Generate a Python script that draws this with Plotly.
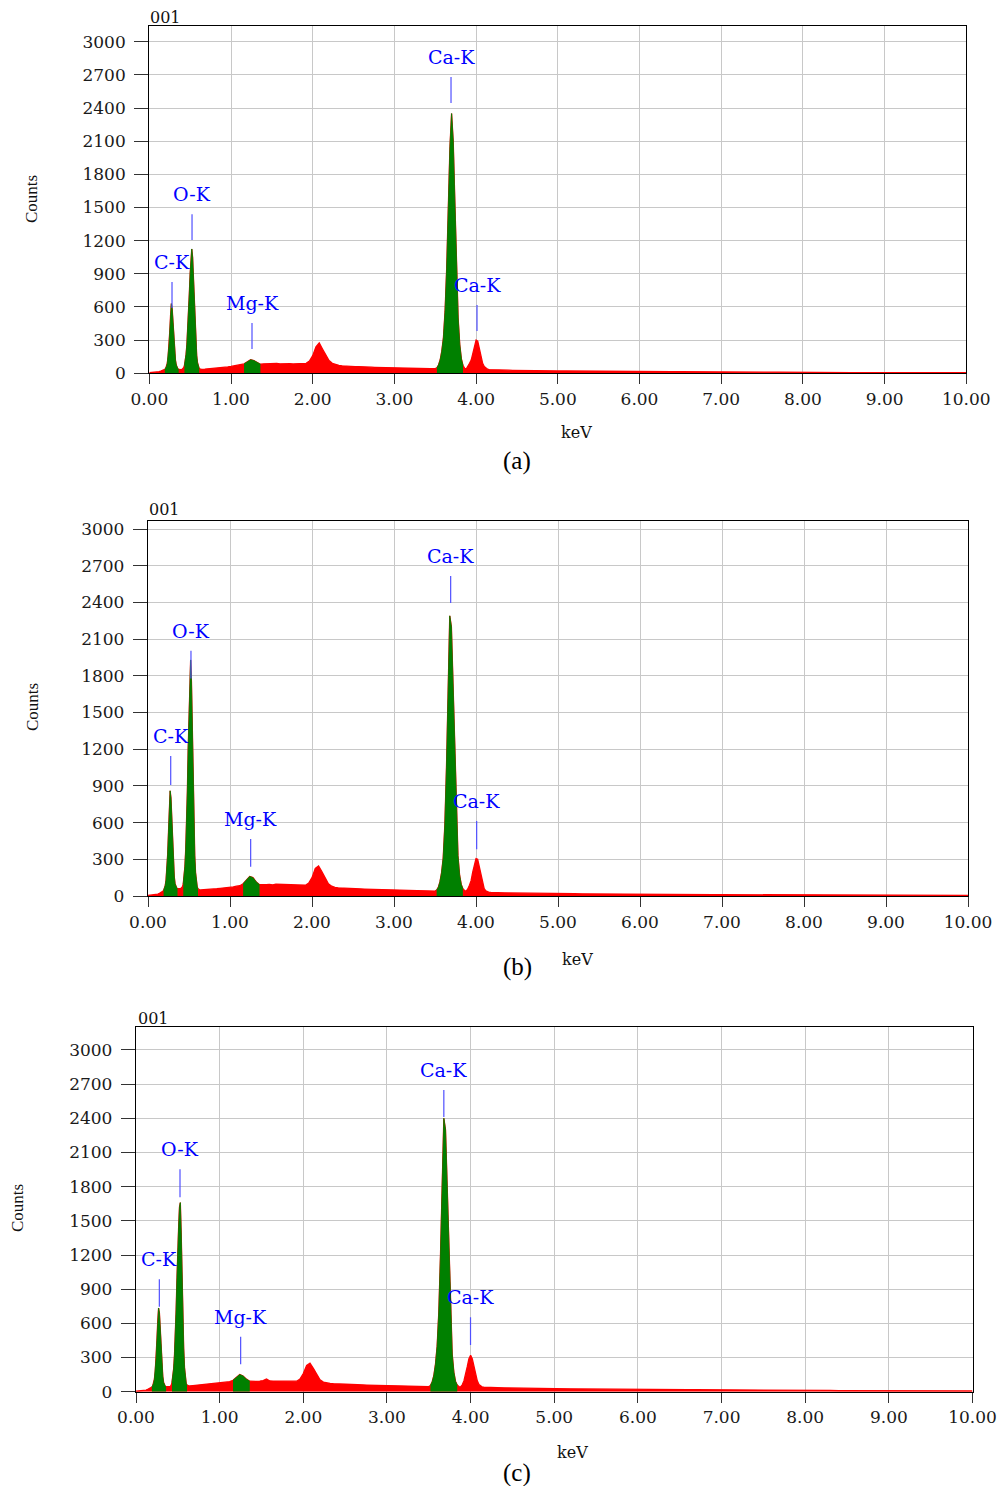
import numpy as np
import plotly.graph_objects as go

# ---------------- data ----------------
# energy channels (keV): sampling segments of the spectrum
ENERGY_KEV = np.round(np.concatenate([
    np.arange(0.00, 0.15, 0.02),    # 0.00 .. 0.14  (8)
    np.arange(0.16, 0.645, 0.01),   # 0.16 .. 0.64  (49)
    np.arange(0.68, 3.485, 0.04),   # 0.68 .. 3.48  (71)
    np.arange(3.50, 4.205, 0.02),   # 3.50 .. 4.20  (36)
    np.arange(4.25, 5.005, 0.05),   # 4.25 .. 5.00  (16)
    np.arange(5.10, 10.005, 0.10),  # 5.10 .. 10.0  (50)
]), 3)

COUNTS_A = [
    5, 6, 7, 8, 10, 12, 15, 20,
    25, 28, 30, 35, 45, 60, 90, 150, 240, 370, 520, 630, 580, 450, 310, 200, 120, 75, 50, 40, 35, 32,
    30, 32, 35, 40, 50, 70, 110, 170, 260, 380, 540, 720, 900, 1060, 1125, 1050, 860, 640, 430, 270,
    160, 95, 60, 45, 40, 38, 36,
    38, 40, 42, 45, 48, 52, 55, 58, 62, 66, 72, 75, 85, 105, 122, 115, 95, 82, 86, 88, 90, 87, 89, 86,
    88, 85, 87, 84, 86, 83, 85, 90, 110, 160, 240, 275, 220, 160, 115, 90, 78, 72, 68, 65, 63, 62, 60,
    61, 58, 57, 56, 55, 54, 53, 52, 50, 49, 48, 47, 46, 46, 45, 44, 44, 43, 43, 42, 42, 41, 41, 42,
    42, 50, 75, 120, 200, 320, 560, 950, 1500, 2050, 2350, 2100, 1550, 950, 500, 260, 130, 70, 45, 40,
    60, 90, 120, 190, 260, 300, 290, 230, 150, 90, 62, 45, 37, 34, 33, 32,
    30, 29, 28, 28, 27, 26, 26, 25, 25, 24, 24, 23, 23, 22, 22, 21,
    21, 20, 20, 19, 19, 18, 18, 17, 17, 16, 16, 15, 15, 14, 15, 14, 13, 13, 12, 12, 12, 11, 11, 11, 10,
    10, 10, 9, 9, 9, 9, 8, 8, 8, 8, 7, 7, 7, 7, 7, 6, 6, 7, 6, 6, 6, 5, 5, 5, 5,
]

COUNTS_B = [
    5, 6, 7, 8, 9, 12, 15, 22,
    28, 32, 38, 45, 60, 85, 130, 210, 340, 520, 720, 860, 800, 620, 430, 270, 160, 100, 75, 65, 62, 60,
    58, 60, 62, 66, 75, 100, 150, 240, 380, 580, 850, 1200, 1550, 1850, 1930, 1750, 1350, 900, 560, 330,
    190, 110, 75, 58, 52, 50, 49,
    50, 52, 55, 57, 60, 63, 65, 67, 70, 74, 80, 84, 100, 130, 160, 150, 115, 92, 90, 92, 94, 91, 96, 95,
    92, 94, 90, 89, 91, 87, 84, 88, 105, 150, 225, 245, 200, 145, 100, 80, 70, 67, 65, 64, 63, 62, 61,
    60, 58, 57, 56, 55, 54, 53, 52, 51, 50, 49, 48, 47, 47, 46, 45, 45, 44, 44, 43, 42, 41, 40, 40,
    40, 48, 70, 115, 190, 310, 580, 1050, 1700, 2290, 2200, 1750, 1150, 650, 330, 170, 95, 60, 45, 40,
    58, 88, 125, 195, 265, 305, 300, 240, 160, 95, 60, 42, 34, 30, 29, 28,
    27, 26, 26, 25, 25, 24, 24, 23, 23, 22, 22, 21, 21, 20, 20, 19,
    19, 19, 18, 18, 17, 17, 16, 16, 15, 15, 15, 14, 14, 13, 13, 13, 12, 12, 12, 11, 11, 11, 10, 10, 10,
    9, 9, 9, 9, 8, 8, 8, 8, 7, 7, 7, 7, 7, 6, 6, 6, 6, 6, 5, 6, 5, 5, 5, 5, 5,
]

COUNTS_C = [
    5, 6, 7, 8, 9, 11, 14, 20,
    26, 30, 34, 40, 52, 72, 110, 180, 290, 450, 620, 735, 690, 540, 370, 230, 135, 80, 55, 47, 44, 43,
    42, 43, 45, 48, 56, 80, 125, 200, 320, 490, 720, 1000, 1300, 1450, 1620, 1660, 1400, 1000, 640, 380,
    210, 120, 72, 58, 53, 51, 50,
    54, 57, 60, 64, 67, 70, 73, 76, 79, 82, 86, 88, 100, 125, 150, 138, 110, 92, 90, 91, 93, 98, 112, 94,
    93, 92, 93, 91, 90, 89, 87, 92, 110, 160, 230, 250, 205, 150, 105, 85, 76, 72, 70, 68, 67, 66, 66,
    64, 62, 61, 60, 59, 58, 57, 56, 55, 54, 53, 52, 51, 51, 50, 50, 49, 49, 48, 48, 47, 46, 45, 45,
    45, 55, 85, 140, 240, 400, 700, 1200, 1850, 2400, 2300, 1800, 1150, 640, 330, 170, 90, 58, 45, 42,
    60, 95, 150, 220, 290, 320, 290, 220, 150, 95, 62, 47, 41, 39, 38, 38,
    37, 36, 35, 34, 33, 32, 31, 30, 30, 29, 28, 28, 27, 27, 26, 26,
    25, 25, 24, 24, 23, 23, 22, 22, 21, 21, 20, 20, 19, 19, 18, 18, 17, 17, 16, 16, 15, 15, 14, 14, 14,
    13, 13, 12, 12, 12, 11, 11, 11, 10, 10, 10, 9, 9, 9, 9, 8, 8, 8, 8, 8, 7, 7, 7, 7, 7,
]

# identified-peak windows (keV) shown in green
GREEN_WINDOWS = [(0.19, 0.36), (0.43, 0.61), (1.14, 1.37), (3.52, 3.85)]

# peak labels: name, energy (keV), marker line bottom / top (counts)
LABEL_NAMES = ["C-K", "O-K", "Mg-K", "Ca-K", "Ca-K"]
LABEL_KEV = {
    "a": [0.278, 0.523, 1.257, 3.693, 4.011],
    "b": [0.277, 0.524, 1.252, 3.691, 4.008],
    "c": [0.279, 0.526, 1.251, 3.680, 3.999],
}
LABEL_LOW = {
    "a": [591, 1205, 220, 2445, 383],
    "b": [907, 1779, 240, 2395, 382],
    "c": [746, 1707, 241, 2412, 410],
}
LABEL_HIGH = {
    "a": [826, 1440, 456, 2680, 619],
    "b": [1144, 2005, 466, 2616, 613],
    "c": [987, 1953, 483, 2649, 653],
}

X_TICKS = [0, 1, 2, 3, 4, 5, 6, 7, 8, 9, 10]
X_TICKTEXT = ["0.00", "1.00", "2.00", "3.00", "4.00", "5.00", "6.00", "7.00", "8.00", "9.00", "10.00"]
Y_TICKS = [0, 300, 600, 900, 1200, 1500, 1800, 2100, 2400, 2700, 3000]
Y_TICKTEXT = ["0", "300", "600", "900", "1200", "1500", "1800", "2100", "2400", "2700", "3000"]

PANELS = ["a", "b", "c"]
SPECTRA = {"a": COUNTS_A, "b": COUNTS_B, "c": COUNTS_C}

for k in PANELS:
    assert len(SPECTRA[k]) == len(ENERGY_KEV), (k, len(SPECTRA[k]), len(ENERGY_KEV))

# ---------------- layout (pixels) ----------------
W, H = 997, 1486
# plot-area geometry: left px, right px, top px, bottom px (y=0), y range top
GEOM = {
    "a": dict(l=149.3, r=966.3, t=26.0, b=373.3, ytop=3142),
    "b": dict(l=148.0, r=968.0, t=520.7, b=896.0, ytop=3068),
    "c": dict(l=136.0, r=972.5, t=1027.3, b=1391.7, ytop=3199),
}
TEXT_POS = {
    "a": dict(counts=(32, 199), kev=(576, 432), tag=(165, 17), cap=(517, 461)),
    "b": dict(counts=(32, 707), kev=(577, 959), tag=(164, 510), cap=(517, 967)),
    "c": dict(counts=(17, 1208), kev=(572, 1452), tag=(153, 1018), cap=(517, 1473)),
}

def px(x, y):
    return x / W, 1 - y / H

SERIF = "DejaVu Serif"
TIMES = "Liberation Serif"

fig = go.Figure()
annotations = []
shapes = []

for i, k in enumerate(PANELS):
    n = "" if i == 0 else str(i + 1)
    xa, ya = "x" + n, "y" + n
    g = GEOM[k]
    e = np.array(ENERGY_KEV)
    c = np.array(SPECTRA[k], dtype=float)

    fig.add_trace(go.Scatter(
        x=e, y=c, xaxis=xa, yaxis=ya, mode="lines",
        line=dict(color="#ff0000", width=1.3), fill="tozeroy",
        fillcolor="#ff0000", hoverinfo="skip", showlegend=False))
    for lo, hi in GREEN_WINDOWS:
        m = (e >= lo - 1e-9) & (e <= hi + 1e-9)
        fig.add_trace(go.Scatter(
            x=e[m], y=c[m], xaxis=xa, yaxis=ya, mode="lines",
            line=dict(color="#008000", width=0.8), fill="tozeroy",
            fillcolor="#008000", hoverinfo="skip", showlegend=False))

    axis_common = dict(
        showline=True, linecolor="#000000", linewidth=1.3, mirror=True,
        showgrid=True, gridcolor="#c8c8c8", gridwidth=1, zeroline=False,
        ticks="outside", tickcolor="#333333", tickwidth=1.3, automargin=False,
        tickfont=dict(family=SERIF, size=17, color="#1a1a1a"),
    )
    fig.layout["xaxis" + n] = dict(
        axis_common, domain=[g["l"] / W, g["r"] / W], range=[0, 10],
        anchor=ya, tickvals=X_TICKS, ticktext=X_TICKTEXT, ticklen=10)
    fig.layout["yaxis" + n] = dict(
        axis_common, domain=[1 - g["b"] / H, 1 - g["t"] / H], range=[0, g["ytop"]],
        anchor=xa, tickvals=Y_TICKS, ticktext=Y_TICKTEXT, ticklen=14,
        ticklabelstandoff=5)

    # peak labels
    for name, kev, lo, hi in zip(LABEL_NAMES, LABEL_KEV[k], LABEL_LOW[k], LABEL_HIGH[k]):
        shapes.append(dict(type="line", xref=xa, yref=ya, x0=kev, x1=kev, y0=lo, y1=hi,
                           line=dict(color="#5050ff", width=1.2), layer="above"))
        annotations.append(dict(x=kev, y=hi, xref=xa, yref=ya, text=name, showarrow=False,
                                yanchor="middle", xanchor="center", yshift=20,
                                font=dict(family=SERIF, size=19, color="#0000ff")))

    tp = TEXT_POS[k]
    x0, y0 = px(*tp["counts"])
    annotations.append(dict(x=x0, y=y0, xref="paper", yref="paper", text="Counts",
                            textangle=-90, showarrow=False, xanchor="center", yanchor="middle",
                            font=dict(family=TIMES, size=17, color="#111111")))
    x0, y0 = px(*tp["kev"])
    annotations.append(dict(x=x0, y=y0, xref="paper", yref="paper", text="keV",
                            showarrow=False, xanchor="center", yanchor="middle",
                            font=dict(family=SERIF, size=16, color="#111111")))
    x0, y0 = px(*tp["tag"])
    annotations.append(dict(x=x0, y=y0, xref="paper", yref="paper", text="001",
                            showarrow=False, xanchor="center", yanchor="middle",
                            font=dict(family=SERIF, size=16, color="#111111")))
    x0, y0 = px(*tp["cap"])
    annotations.append(dict(x=x0, y=y0, xref="paper", yref="paper", text="(" + k + ")",
                            showarrow=False, xanchor="center", yanchor="middle",
                            font=dict(family=TIMES, size=25, color="#000000")))

fig.update_layout(
    width=W, height=H, margin=dict(l=0, r=0, t=0, b=0, autoexpand=False),
    paper_bgcolor="white", plot_bgcolor="white",
    annotations=annotations, shapes=shapes, showlegend=False,
)

fig.write_html("out.html", config={"displayModeBar": False},
               post_script="document.body.style.margin='0px';")
